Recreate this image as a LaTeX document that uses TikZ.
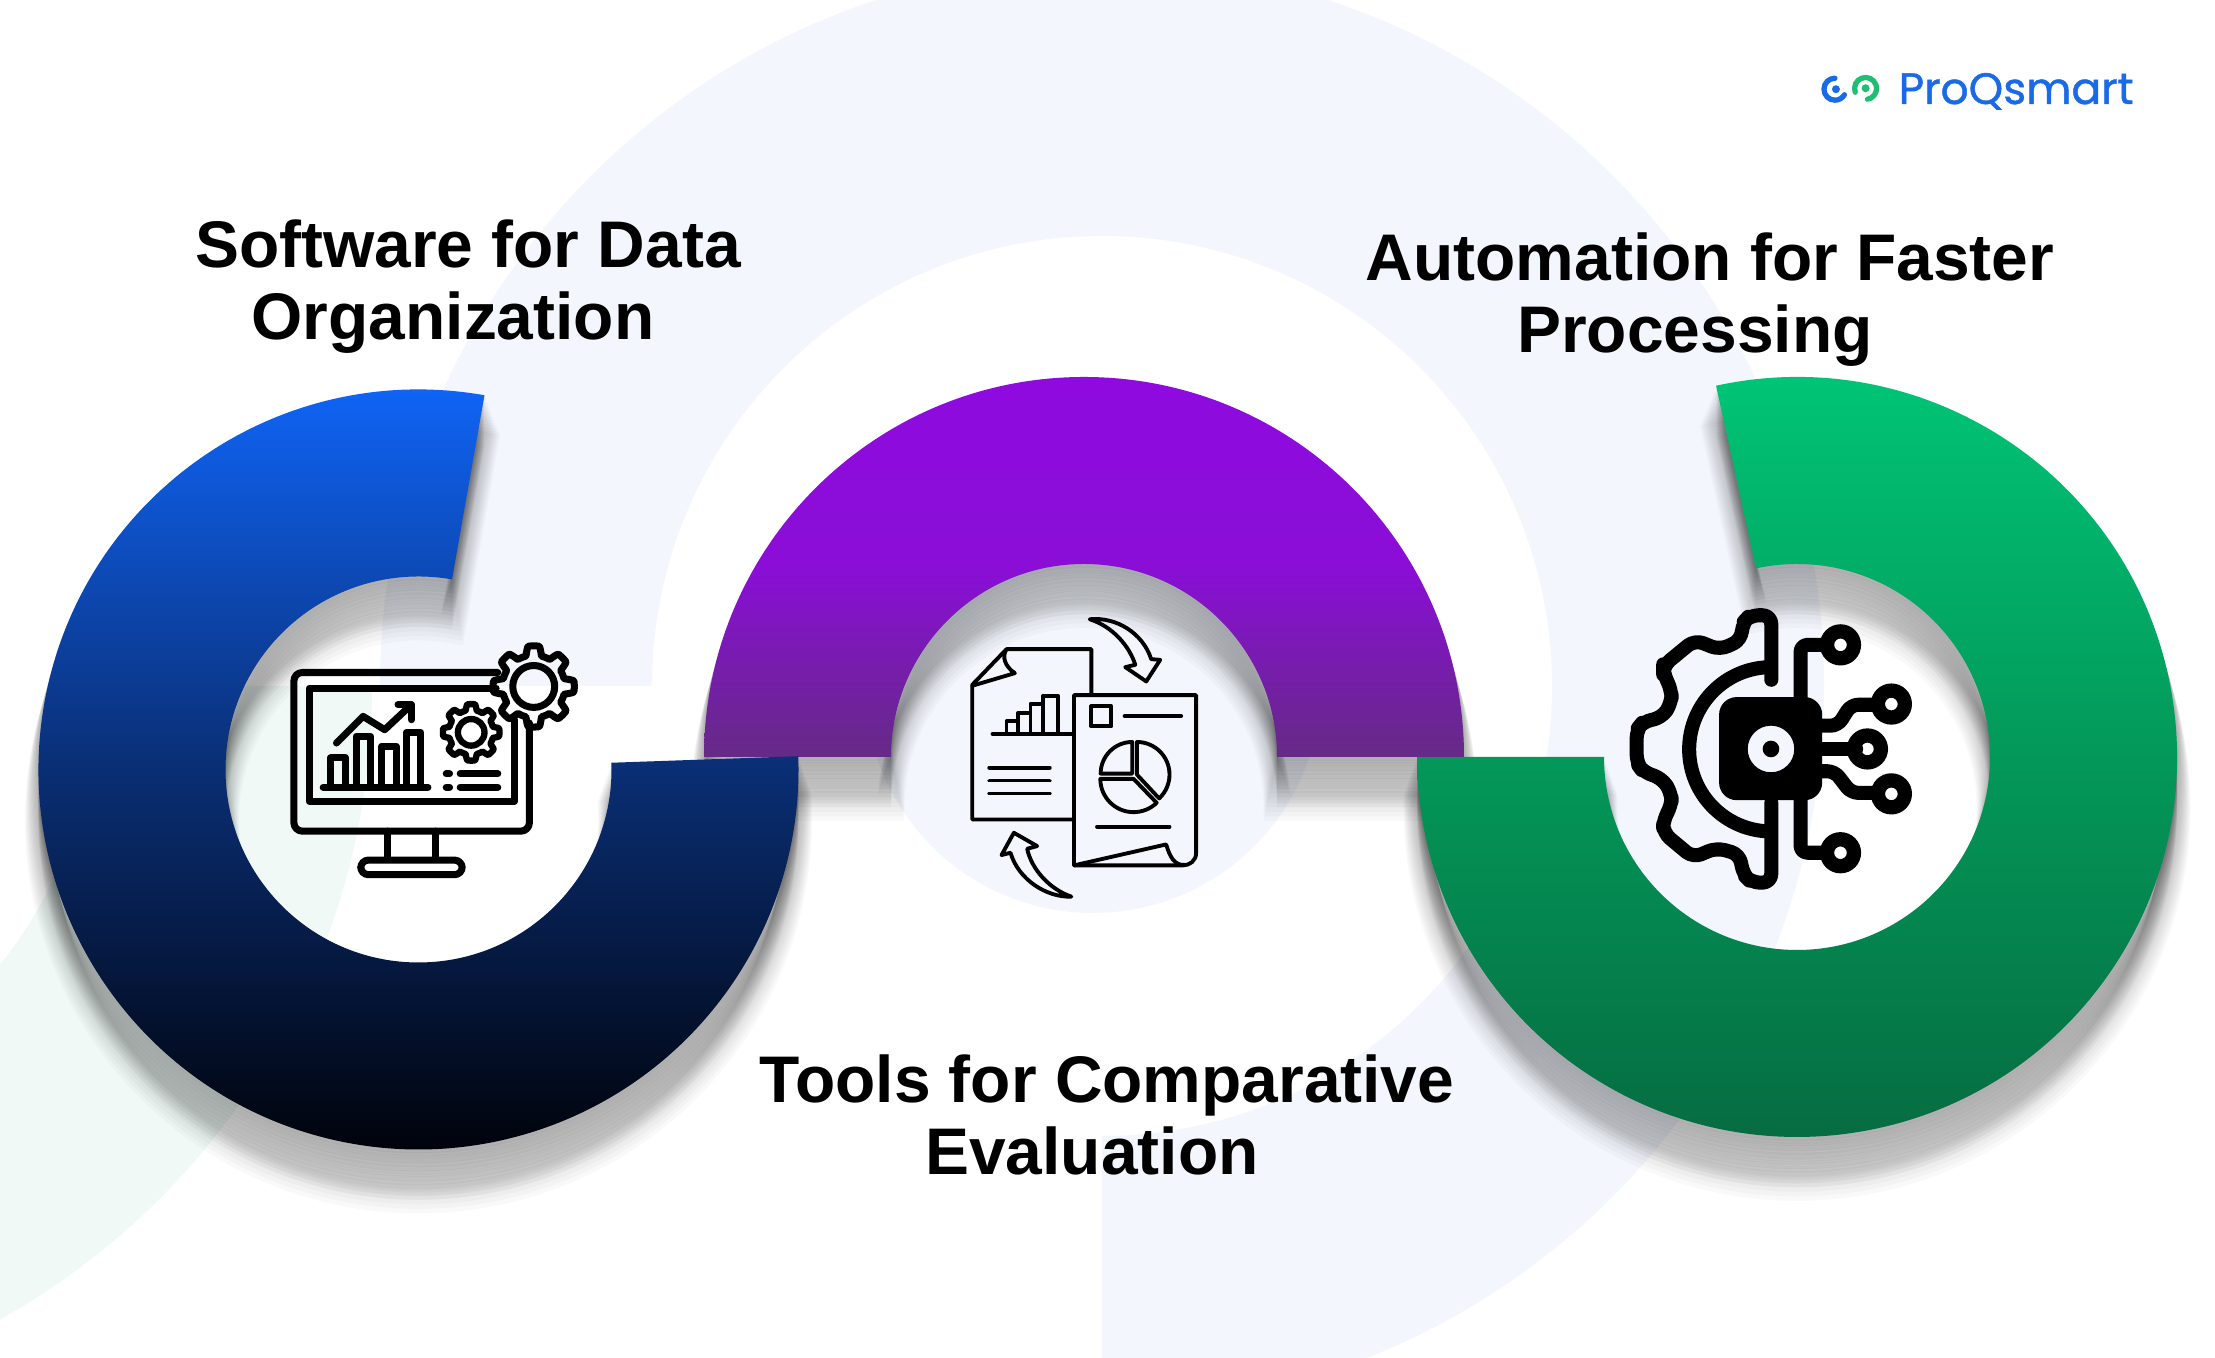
\documentclass[tikz,border=0pt]{standalone}
\usepackage{fontspec}
\setmainfont{Liberation Sans}
\newfontfamily\logofont{Poppins}[FakeBold=1]
\definecolor{paleblue}{RGB}{243,246,252}
\definecolor{palegreen}{RGB}{240,249,246}
\definecolor{logoblue}{RGB}{26,106,232}
\definecolor{logogreen}{RGB}{30,190,115}
\definecolor{blueT}{RGB}{16,104,255}
\definecolor{blueM}{RGB}{10,47,118}
\definecolor{blueB}{RGB}{0,1,6}
\definecolor{purpleT}{RGB}{143,10,223}
\definecolor{purpleM}{RGB}{138,14,214}
\definecolor{purpleB}{RGB}{101,42,134}
\definecolor{greenT}{RGB}{0,200,120}
\definecolor{greenM}{RGB}{3,153,90}
\definecolor{greenB}{RGB}{6,106,64}
% one band of a ring, centre and two angles
\newcommand{\bandpath}[3]{([shift={(#2:3.8)}]#1) arc (#2:#3:3.8) -- ([shift={(#3:1.93)}]#1) arc (#3:#2:1.93) -- cycle}
\newcommand{\softshadow}[3]{\foreach \i in {1,...,14} {
    \coordinate (shadecentre) at ([yshift={-\i*.036cm}]#1);
    \filldraw[black,opacity=.022,line width={\i*.55pt}] \bandpath{shadecentre}{#2}{#3};}}
\newcommand{\cogwheel}[5]{\draw[#5] plot[domain=0:360,samples=241] ({#1+(#3+#4*max(-1,min(1,2.4*cos(8*\x))))*cos(\x)},{#2+(#3+#4*max(-1,min(1,2.4*cos(8*\x))))*sin(\x)}) -- cycle;}
\tikzset{
  headlabel/.style={align=center,inner sep=0pt,text=black,font=\fontsize{18.75}{20.5}\selectfont\bfseries},
  iconline/.style={draw=black,line width=2pt,line cap=round,line join=round},
  docline/.style={draw=black,line width=1.1pt,line cap=round,line join=round},
  boldline/.style={draw=black,line width=4pt,line cap=round,line join=round},
  logoarc/.style={line width=1.5pt,line cap=round}
}
\begin{document}
\begin{tikzpicture}
\useasboundingbox (0,0) rectangle (22.15,13.58);
\fill[white] (0,0) rectangle (22.15,13.58);
% pale rings behind everything
\fill[paleblue] (18.24,6.72) arc (0:-90:7.22) -- (11.02,2.22) arc (-90:180:4.5) -- (3.8,6.72) arc (180:0:7.22) -- cycle;
\fill[palegreen] (3.72,6.72) arc (0:-90:7.25) -- (-3.53,2.22) arc (-90:0:4.5) -- cycle;
\fill[paleblue] (10.93,6.73) circle (2.28);
\coordinate (bluecentre) at (4.185,5.885);
\coordinate (purplecentre) at (10.84,6.01);
\coordinate (greencentre) at (17.97,6.01);
% shadows first, then the three bands
\softshadow{greencentre}{102.3}{-180}
\softshadow{purplecentre}{0}{180}
\softshadow{bluecentre}{80}{362}
\shade[top color=greenT,bottom color=greenB,middle color=greenM] \bandpath{greencentre}{102.3}{-180};
\shade[top color=purpleT,bottom color=purpleB,middle color=purpleM] \bandpath{purplecentre}{0}{180};
\shade[top color=blueT,bottom color=blueB,middle color=blueM] \bandpath{bluecentre}{80}{362};
% monitor icon
\begin{scope}[shift={(2.5,7.58)},x=0.003333cm,y=-0.003333cm]
  \draw[iconline,rounded corners=2.4pt] (745,218) -- (132,218) -- (132,695) -- (840,695) -- (840,370);
  \draw[iconline] (740,265) -- (178,265) -- (178,605) -- (795,605) -- (795,360);
  \draw[iconline] (413,695) -- (413,780) (558,695) -- (558,780);
  \draw[iconline,rounded corners=2.2pt] (333,782) rectangle (638,826);
  \draw[iconline] (220,563) -- (535,563);
  \foreach \x/\y in {243/475,319/410,395/440,470/398} {
    \draw[iconline] (\x,555) -- (\x,\y) -- ({\x+44},\y) -- ({\x+44},555);
  }
  \draw[iconline] (260,430) -- (340,350) -- (405,390) -- (485,315);
  \draw[iconline] (445,315) -- (485,315) -- (485,360);
  \cogwheel{665}{398}{76}{9}{iconline,line width=1.8pt}
  \draw[iconline,line width=1.8pt] (665,398) circle (40);
  \cogwheel{853}{260}{108}{14}{iconline}
  \draw[iconline] (853,260) circle (63);
  \foreach \y in {523,563} {
    \draw[iconline] (590,\y) -- (600,\y) (632,\y) -- (745,\y);
  }
\end{scope}
% document icon
\begin{scope}[shift={(9.4,7.68)},x=0.003333cm,y=-0.003333cm]
  \draw[docline] (400,690) -- (97,690) -- (97,285) -- (200,178) -- (455,178) -- (455,315);
  \draw[docline] (200,178) .. controls (185,200) and (195,230) .. (225,250) -- (97,288);
  \draw[docline] (158,433) -- (395,433);
  \foreach \x/\y/\w in {200/395/35,235/370/37,272/342/38,310/318/45} {
    \draw[docline] (\x,433) -- (\x,\y) -- ({\x+\w},\y) -- ({\x+\w},433);
  }
  \foreach \y in {534,573,612} {
    \draw[docline] (148,\y) -- (330,\y);
  }
  \draw[docline] (403,828) -- (403,316) -- (770,316) -- (770,790) .. controls (770,815) and (750,828) .. (730,828) -- cycle;
  \draw[docline] (403,828) -- (680,765) .. controls (690,800) and (705,830) .. (735,826);
  \draw[docline] (455,350) rectangle (515,410);
  \draw[docline] (555,379) -- (725,379);
  \draw[docline] (472,712) -- (690,712);
  \draw[docline] (578,457) arc (-90:-180:95) -- (578,552) -- cycle;
  \draw[docline] (592,457) arc (-90:47:98) -- (592,555) -- cycle;
  \draw[docline] (482,568) arc (180:46:100) -- (582,568) -- cycle;
  \draw[docline] (450,88) .. controls (530,80) and (610,130) .. (635,208) -- (662,210) -- (620,275) -- (557,232) -- (587,225) .. controls (570,170) and (520,110) .. (450,88) -- cycle;
  \draw[docline] (395,922) .. controls (320,925) and (235,870) .. (212,790) -- (185,797) -- (222,730) -- (292,770) -- (262,778) .. controls (275,840) and (330,900) .. (395,922) -- cycle;
\end{scope}
% gear and circuit icon
\begin{scope}[shift={(16,7.68)},x=0.003333cm,y=-0.003333cm]
  \draw[boldline,rounded corners=2.5pt] (515,270) -- (515,76) -- (450,76) -- (428,100) -- (425,150) -- (360,180) -- (285,150) -- (190,228) -- (190,250) -- (215,300) -- (215,340) -- (185,385) -- (130,395) -- (110,420) -- (110,520) -- (130,548) -- (185,565) -- (215,610) -- (215,650) -- (190,690) -- (190,730) -- (280,805) -- (350,775) -- (420,795) -- (430,855) -- (455,880) -- (515,880) -- (515,640);
  \draw[boldline,line cap=butt] (515,232) arc (-90:-270:247);
  \fill[even odd rule,rounded corners=5pt] (358,322) rectangle (668,632) (584,478) arc (0:360:70);
  \fill (514,478) circle (25);
  \draw[boldline,rounded corners=2pt] (603,330) -- (603,165) -- (680,165);
  \draw[boldline,rounded corners=2pt] (668,408) -- (715,408) -- (755,345) -- (830,345);
  \draw[boldline] (668,478) -- (770,478);
  \draw[boldline,rounded corners=2pt] (668,545) -- (705,545) -- (755,610) -- (830,610);
  \draw[boldline,rounded corners=2pt] (603,630) -- (603,790) -- (680,790);
  \foreach \x/\y in {723/165,876/343,804/478,876/613,723/790} {
    \fill[even odd rule] (\x,\y) circle (62) (\x,\y) circle (19);
  }
\end{scope}
% logo
\begin{scope}[shift={(18,13.08)},x=0.003333cm,y=-0.003333cm]
  \draw[logoblue,logoarc] (105,85) arc (-90:-330:33);
  \fill[logoblue] (108,118) circle (12);
  \draw[logogreen,logoarc] (166,127) arc (160:440:33);
  \fill[logogreen] (197,115) circle (12);
\end{scope}
\node[anchor=base west,inner sep=0pt,text=logoblue,font=\logofont\fontsize{12.5}{14}\selectfont] (logotext) at (18.98,12.54) {ProQsmart};
% headings
\node[headlabel] (softwarelabel) at (4.68,10.71) {Software for Data\\Organization\hspace*{.3cm}};
\node[headlabel] (automationlabel) at (17.10,10.58) {Automation for Faster\\Processing\hspace*{.3cm}};
\node[headlabel] (toolslabel) at (11.07,2.43) {Tools for Comparative\\Evaluation\hspace*{.3cm}};
\end{tikzpicture}
\end{document}
